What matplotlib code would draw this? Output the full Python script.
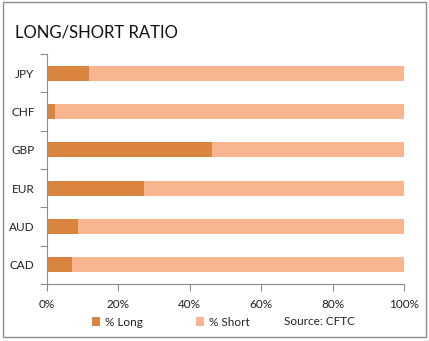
import numpy as np
import matplotlib
matplotlib.use("Agg")
import matplotlib.pyplot as plt
from matplotlib.patches import Rectangle

plt.rcParams["font.family"] = ["Lato", "DejaVu Sans"]

currencies = ["JPY", "CHF", "GBP", "EUR", "AUD", "CAD"]
pct_long = [11.8, 2.2, 46.2, 27.2, 8.7, 7.0]
pct_short = [100 - v for v in pct_long]
x_ticks = [0, 20, 40, 60, 80, 100]

LONG_COLOR = "#D9853F"
SHORT_COLOR = "#F8B58F"
AXIS_COLOR = "#8C8C8C"

fig = plt.figure(figsize=(4.29, 3.41), dpi=100)
ax = fig.add_axes([0.1096, 0.1672, 0.8321, 0.6745])

y = np.arange(len(currencies))
ax.barh(y, pct_long, height=0.39, color=LONG_COLOR, label="% Long")
ax.barh(y, pct_short, left=pct_long, height=0.39, color=SHORT_COLOR, label="% Short")

ax.set_xlim(0, 100)
ax.set_ylim(len(currencies) - 0.5, -0.5)

ax.set_xticks(x_ticks)
ax.set_xticklabels([f"{t}%" for t in x_ticks])
ax.set_yticks(y)
ax.set_yticklabels(currencies)
ax.set_yticks(np.arange(-0.5, len(currencies)), minor=True)

ax.tick_params(axis="y", which="major", length=0, pad=9, labelsize=8.5, labelcolor="#222222")
ax.tick_params(axis="y", which="minor", length=5, width=0.8, color=AXIS_COLOR)
ax.tick_params(axis="x", length=5, width=0.8, color=AXIS_COLOR, pad=6,
               labelsize=8.5, labelcolor="#222222")

for side in ["top", "right"]:
    ax.spines[side].set_visible(False)
for side in ["left", "bottom"]:
    ax.spines[side].set_color(AXIS_COLOR)
    ax.spines[side].set_linewidth(0.8)

fig.text(0.035, 0.905, "LONG/SHORT RATIO", fontsize=12, color="#111111",
         va="center", ha="left")

leg = fig.legend(loc="center left", bbox_to_anchor=(0.19, 0.055), ncol=2,
                 frameon=False, fontsize=8.5, handlelength=0.7, handleheight=0.7,
                 handletextpad=0.4, columnspacing=4.5)
for t in leg.get_texts():
    t.set_color("#222222")
fig.text(0.662, 0.058, "Source: CFTC", fontsize=8.5, color="#222222",
         va="center", ha="left")

# chart border
fig.patches.append(Rectangle((0.007, 0.012), 0.986, 0.982, transform=fig.transFigure,
                             fill=False, edgecolor="#8C8C8C", linewidth=1.0))

fig.savefig("out.png", dpi=100)
